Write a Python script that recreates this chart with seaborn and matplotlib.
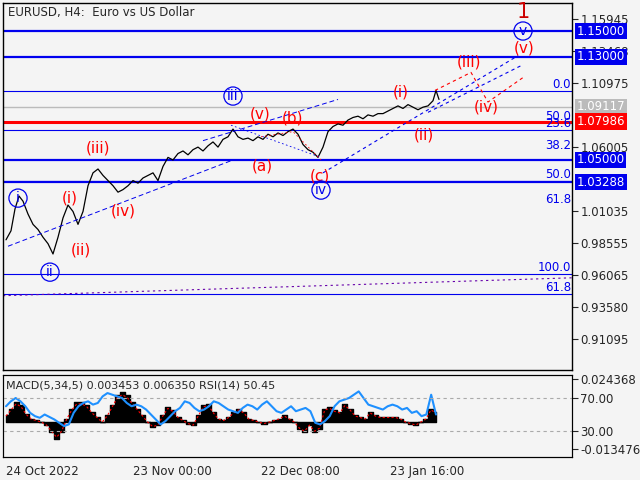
import matplotlib
matplotlib.use("Agg")
import matplotlib.pyplot as plt
import seaborn as sns
import numpy as np

sns.set_style("white")
plt.rcParams['font.family'] = ['DejaVu Sans']

# price path (bar position, close)
bar_x = [3,8,12,16,20,25,30,35,40,45,50,55,60,65,70,75,80,85,90,95,100,105,110,115,120,125,130,
         135,140,145,150,155,160,165,170,175,180,185,190,195,200,205,210,215,220,225,230,235,240,
         245,250,255,260,265,270,275,280,285,290,295,300,305,310,315,320,325,330,335,340,345,350,
         355,360,365,370,375,380,385,390,395,400,405,410,415,420,425,430,433,436]
close = [0.988,0.995,1.012,1.022,1.018,1.008,1.000,0.996,0.990,0.985,0.977,0.990,1.005,1.015,1.010,
         1.000,1.010,1.030,1.040,1.043,1.038,1.034,1.030,1.025,1.027,1.030,1.034,1.032,1.036,1.038,
         1.040,1.034,1.045,1.052,1.050,1.055,1.057,1.054,1.058,1.060,1.057,1.061,1.064,1.060,1.066,
         1.068,1.074,1.068,1.066,1.067,1.065,1.068,1.066,1.070,1.068,1.071,1.069,1.072,1.074,1.070,
         1.062,1.058,1.056,1.052,1.060,1.072,1.076,1.078,1.077,1.081,1.083,1.084,1.082,1.085,1.084,
         1.086,1.086,1.088,1.090,1.092,1.090,1.093,1.091,1.089,1.091,1.092,1.096,1.104,1.097]

hlines_thick = [1.15000, 1.13000, 1.05000, 1.03288]
fib_levels = [1.1035, 1.0730, 1.0340, 0.9614, 0.9458]
price_ticks = [1.15945, 1.13468, 1.10975, 1.06005, 1.01035, 0.98555, 0.96065, 0.93580, 0.91095]

# indicator data
rsi = [60,66,70,66,60,52,48,46,50,47,44,40,36,38,52,60,64,66,62,64,72,76,74,72,70,64,60,62,60,56,
       50,44,38,42,48,54,58,66,64,58,54,56,60,66,64,60,56,54,52,58,62,60,56,62,66,60,54,52,56,60,
       54,56,58,54,40,38,42,48,60,66,68,70,74,78,70,62,60,58,56,60,62,60,56,58,52,54,48,50,74,50]
macd = [0.004,0.008,0.012,0.010,0.005,0.002,0.001,0.000,-0.002,-0.006,-0.010,-0.006,0.002,0.008,0.012,
        0.012,0.010,0.006,0.003,0.000,0.004,0.010,0.016,0.018,0.016,0.012,0.008,0.004,0.000,-0.003,
        -0.002,0.004,0.009,0.007,0.003,0.001,-0.001,-0.002,0.004,0.010,0.011,0.006,0.002,0.001,
        0.003,0.006,0.008,0.006,0.002,0.001,0.000,-0.001,0.000,0.001,0.002,0.004,0.002,0.000,
        -0.004,-0.006,-0.002,-0.006,-0.004,0.008,0.009,0.007,0.006,0.011,0.008,0.004,0.003,0.002,
        0.006,0.004,0.003,0.003,0.003,0.003,0.002,0.000,-0.001,-0.002,0.000,0.002,0.008,0.006]

BG = "#f4f4f4"
fig = plt.figure(figsize=(6.4, 4.8), dpi=100, facecolor=BG)
W, H = 640, 480
def rect(l, t, r, b):
    return [l/W, 1-b/H, (r-l)/W, (b-t)/H]

ax = fig.add_axes(rect(3, 3, 572, 370), facecolor=BG)
ax.set_xlim(0, 569)
ax.set_ylim(0.8869, 1.1719)
for s in ax.spines.values():
    s.set_color("black"); s.set_linewidth(1)
ax.set_xticks([]); ax.yaxis.tick_right()
ax.set_yticks(price_ticks)
ax.set_yticklabels([f"{p:.5f}" for p in price_ticks], fontsize=8.5)
ax.tick_params(axis='y', length=4, pad=2)

for y in hlines_thick:
    ax.axhline(y, color="#0000ee", lw=1.6)
for y in fib_levels:
    ax.axhline(y, color="#0000ee", lw=0.8)
ax.axhline(1.0785, color="#5500aa", lw=1.2)
ax.axhline(1.09117, color="#bbbbbb", lw=1)
ax.axhline(1.07986, color="red", lw=2.2)
ax.plot([0, 569], [0.9446, 0.9585], color="#6600aa", ls=(0, (2, 3)), lw=0.8)

for lv, lab in zip([1.1035, 1.0785, 1.0730, 1.0560, 1.0340, 1.0140, 0.9614, 0.9458],
                   ["0.0", "50.0", "23.6", "38.2", "50.0", "61.8", "100.0", "61.8"]):
    ax.text(568, lv, lab, color="#0000ee", fontsize=8.5, ha="right", va="bottom")

sns.lineplot(x=bar_x, y=close, ax=ax, color="black", lw=0.9)

# trend / projection lines
ax.plot([5, 230], [0.983, 1.050], color="#0000ee", ls=(0, (5, 3)), lw=0.7)
ax.plot([200, 335], [1.065, 1.097], color="#0000ee", ls=(0, (5, 3)), lw=0.7)
ax.plot([320, 515], [1.040, 1.131], color="#0000ee", ls=(0, (3, 3)), lw=0.8)
ax.plot([425, 520], [1.087, 1.124], color="#0000ee", ls=(0, (3, 3)), lw=0.8)
ax.plot([228, 318], [1.077, 1.052], color="#0000ee", ls=(0, (2, 3)), lw=0.6)
ax.plot([432, 468, 485, 520], [1.104, 1.118, 1.095, 1.114], color="red", ls=(0, (3, 3)), lw=0.8)
ax.plot([258, 290, 318], [1.068, 1.072, 1.050], color="red", ls=(0, (2, 3)), lw=0.6)

def px2p(py): return 1.1719 - (py-3)*0.000777
red_labels = [("(v)",521,48),("(iii)",466,62),("(iv)",483,107),("(i)",398,92),("(ii)",421,135),
              ("(b)",290,118),("(a)",259,166),("(c)",317,176),("(v)",257,114),("(iii)",95,148),
              ("(iv)",120,211),("(i)",67,198),("(ii)",78,250)]
for t, x, y in red_labels:
    ax.text(x, px2p(y), t, color="red", fontsize=11, ha="center", va="center")
for t, x, y in [("v",520,31),("iii",230,96),("iv",318,190),("i",15,198),("ii",47,272)]:
    ax.text(x, px2p(y), t, color="#0000ee", fontsize=10, ha="center", va="center",
            bbox=dict(boxstyle="circle,pad=0.15", fc="none", ec="#0000ee", lw=0.9))
ax.text(520, px2p(12), "1", color="#cc0000", fontsize=15, ha="center", va="center")
ax.text(5, px2p(12), "EURUSD, H4:  Euro vs US Dollar", fontsize=8.5, va="center")

# boxed price labels
for p, fc, tc in [(1.15000,"#0000ee","white"),(1.13000,"#0000ee","white"),(1.09117,"#bbbbbb","white"),
                  (1.07986,"red","white"),(1.05000,"#0000ee","white"),(1.03288,"#0000ee","white")]:
    ax.text(1.008, (p-0.8869)/(1.1719-0.8869), f"{p:.5f}", transform=ax.transAxes, color=tc,
            fontsize=8.5, va="center", ha="left",
            bbox=dict(boxstyle="square,pad=0.15", fc=fc, ec="none"))

# indicator panel
ax2 = fig.add_axes(rect(3, 375, 572, 457), facecolor=BG)
for s in ax2.spines.values():
    s.set_color("black")
ax2.set_xlim(0, 569)
ax2.set_ylim(-0.0207, 0.0279)
xm = np.linspace(3, 433, len(macd))
ax2.fill_between(xm, 0, macd, color="black", step="mid")
ax2.plot(xm, np.array(macd)*0.9, color="red", ls=(0, (2, 2)), lw=0.8)
ax2.set_yticks([])
ax2.set_xticks([3, 130, 258, 387])
ax2.set_xticklabels(["24 Oct 2022", "23 Nov 00:00", "22 Dec 08:00", "23 Jan 16:00"], fontsize=8.5, ha="left")
ax2.tick_params(length=4, pad=2)
ax3 = ax2.twinx()
ax3.set_ylim(-1.5, 97.9)
xr = np.linspace(3, 433, len(rsi))
sns.lineplot(x=xr, y=rsi, ax=ax3, color="#1e90ff", lw=1.5)
for lv in [70, 30]:
    ax3.axhline(lv, color="#aaaaaa", ls=(0, (3, 3)), lw=0.8)
ax3.set_yticks([93, 70, 30, 8])
ax3.set_yticklabels(["0.024368", "70.00", "30.00", "-0.013476"], fontsize=8.5)
ax3.tick_params(length=4, pad=2)
for s in ax3.spines.values():
    s.set_color("black")
ax2.text(3, 0.0215, "MACD(5,34,5) 0.003453 0.006350 RSI(14) 50.45", fontsize=8, va="center")

fig.savefig("out.png", dpi=100, facecolor=BG)
